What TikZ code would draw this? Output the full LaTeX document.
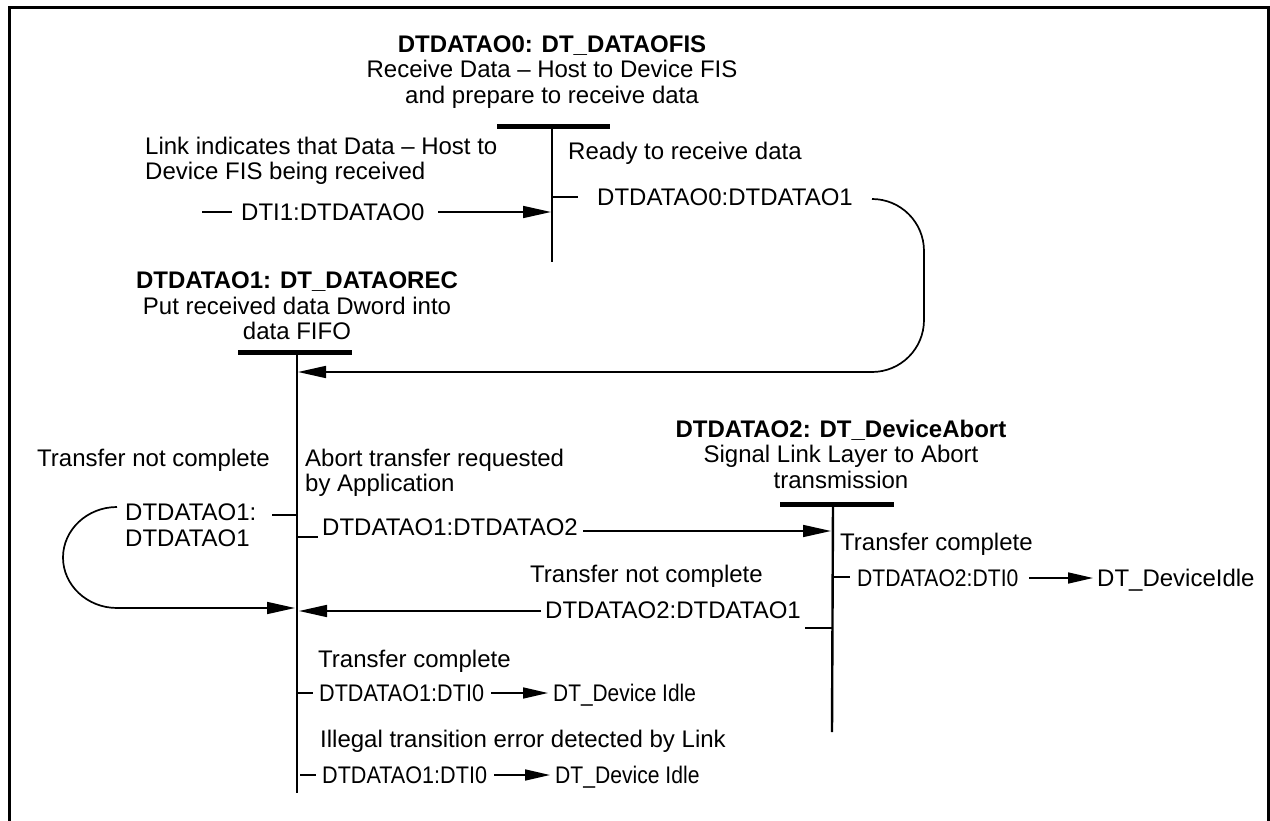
\documentclass[tikz,border=0pt]{standalone}
\usepackage{fontspec}
\setmainfont{Liberation Sans}
\usetikzlibrary{arrows.meta}
\newcommand{\fs}{\fontsize{24}{25.5}\selectfont}
\begin{document}
\begin{tikzpicture}[x=1pt,y=-1pt,
  lbl/.style={inner sep=0pt,anchor=west,font=\fs},
  blbl/.style={inner sep=0pt,anchor=base west,font=\fs},
  ttl/.style={inner sep=0pt,align=center,font=\fs},
  bar/.style={line width=5pt},
  vline/.style={line width=2.4pt},
  ln/.style={line width=1.7pt},
  arr/.style={ln,-{Triangle[length=28pt,width=12pt]}},
  sarr/.style={ln,-{Triangle[length=25pt,width=11pt]}}]
\useasboundingbox (0,0) rectangle (1270,821);
% frame
\draw[line width=3pt] (9.5,821) -- (9.5,7.5) -- (1268.5,7.5) -- (1268.5,821);

% ---------- state 0 ----------
\node[ttl] (t0) at (552,72) {\textbf{DTDATAO0: DT\_DATAOFIS}\\Receive Data -- Host to Device FIS\\and prepare to receive data};
\coordinate (b0l) at (497,127); \coordinate (b0r) at (610,127);
\coordinate (s0top) at (552,127); \coordinate (s0bot) at (552,262);
\draw[bar] (b0l) -- (b0r);
\draw[vline] (s0top) -- (s0bot);

\node[lbl,align=left] (c01) at (145,161) {Link indicates that Data -- Host to\\Device FIS being received};
\coordinate (i0a) at (202,212); \coordinate (i0b) at (232,212);
\draw[ln] (i0a) -- (i0b);
\node[lbl] (e01) at (241,212) {DTI1:DTDATAO0};
\coordinate (i0c) at (438,212); \coordinate (i0d) at (551,212);
\draw[arr] (i0c) -- (i0d);

\node[lbl] (c02) at (568,153) {Ready to receive data};
\coordinate (o0a) at (552,197); \coordinate (o0b) at (578,197);
\draw[ln] (o0a) -- (o0b);
\node[lbl] (e02) at (597,197) {DTDATAO0:DTDATAO1};
\coordinate (o0c) at (872,199); \coordinate (o0d) at (924,372); \coordinate (s1in) at (298,372);
\draw[arr,rounded corners=52pt] (o0c) -| (o0d) -- (s1in);

% ---------- state 1 ----------
\node[ttl] (t1) at (297,306) {\textbf{DTDATAO1: DT\_DATAOREC}\\Put received data Dword into\\data FIFO};
\coordinate (b1l) at (238,352); \coordinate (b1r) at (352,352);
\coordinate (s1top) at (297,352); \coordinate (s1bot) at (297,793);
\draw[bar] (b1l) -- (b1r);
\draw[vline] (s1top) -- (s1bot);

% self loop
\node[lbl] (c11) at (37,460) {Transfer not complete};
\coordinate (l1a) at (272,515); \coordinate (l1b) at (297,515);
\draw[ln] (l1a) -- (l1b);
\node[lbl,align=left] (e11) at (125,525) {DTDATAO1:\\DTDATAO1};
\coordinate (l1c) at (117,507); \coordinate (l1d) at (63,557.5); \coordinate (l1e) at (117,608);
\coordinate (s1loop) at (295,608);
\draw[arr] (l1c) .. controls (87,507) and (63,530) .. (l1d)
  .. controls (63,585) and (87,608) .. (l1e) -- (s1loop);

% to state 2
\node[lbl,align=left] (c12) at (305,473) {Abort transfer requested\\by Application};
\coordinate (o1a) at (297,537); \coordinate (o1b) at (318,537);
\draw[ln] (o1a) -- (o1b);
\node[lbl] (e12) at (322,527) {DTDATAO1:DTDATAO2};
\coordinate (o1c) at (583,531); \coordinate (s2in) at (831,531);
\draw[arr] (o1c) -- (s2in);

% exits of state 1
\node[lbl] (c13) at (318,661) {Transfer complete};
\coordinate (x1a) at (298,693); \coordinate (x1b) at (313,693);
\draw[ln] (x1a) -- (x1b);
\node[blbl] (e13) at (319,701.5) {\scalebox{0.9}[1]{DTDATAO1:DTI0}};
\coordinate (x1c) at (491,693); \coordinate (x1d) at (548,693);
\draw[sarr] (x1c) -- (x1d);
\node[blbl] (d13) at (553,701.5) {\scalebox{0.87}[1]{DT\_Device Idle}};

\node[lbl] (c14) at (320,741) {Illegal transition error detected by Link};
\coordinate (x2a) at (300,775); \coordinate (x2b) at (316,775);
\draw[ln] (x2a) -- (x2b);
\node[blbl] (e14) at (322,783.5) {\scalebox{0.9}[1]{DTDATAO1:DTI0}};
\coordinate (x2c) at (494,775); \coordinate (x2d) at (550,775);
\draw[sarr] (x2c) -- (x2d);
\node[blbl] (d14) at (555,783.5) {\scalebox{0.88}[1]{DT\_Device Idle}};

% ---------- state 2 ----------
\node[ttl] (t2) at (841,454) {\textbf{DTDATAO2: DT\_DeviceAbort}\\Signal Link Layer to Abort\\transmission};
\coordinate (b2l) at (780,504); \coordinate (b2r) at (894,504);
\coordinate (s2top) at (833,504); \coordinate (s2bot) at (832,732);
\draw[bar] (b2l) -- (b2r);
\draw[vline] (s2top) -- (s2bot);

\node[lbl] (c21) at (840,544) {Transfer complete};
\coordinate (x3a) at (833,577); \coordinate (x3b) at (850,577);
\draw[ln] (x3a) -- (x3b);
\node[blbl] (e21) at (857,586) {\scalebox{0.88}[1]{DTDATAO2:DTI0}};
\coordinate (x3c) at (1029,578); \coordinate (x3d) at (1093,578);
\draw[sarr] (x3c) -- (x3d);
\node[blbl] (d21) at (1097,586) {DT\_DeviceIdle};

\node[lbl] (c22) at (530,576) {Transfer not complete};
\coordinate (r2a) at (832,628); \coordinate (r2b) at (805,628);
\draw[ln] (r2a) -- (r2b);
\node[lbl] (e22) at (545,610) {DTDATAO2:DTDATAO1};
\coordinate (r2c) at (541,611); \coordinate (s1in2) at (299,611);
\draw[arr] (r2c) -- (s1in2);
\end{tikzpicture}
\end{document}
